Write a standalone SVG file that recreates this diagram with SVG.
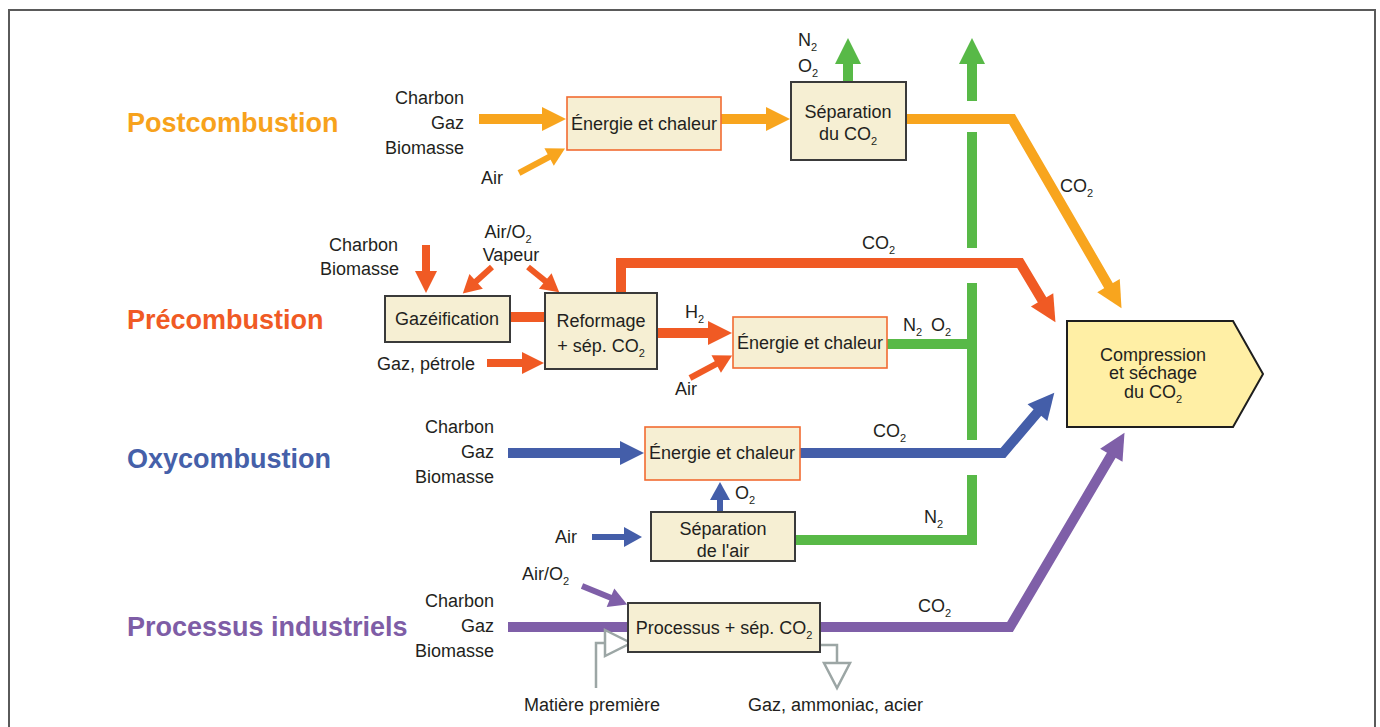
<svg xmlns="http://www.w3.org/2000/svg" width="1380" height="727" viewBox="0 0 1380 727">
<style>
text{font-family:"Liberation Sans",Arial,Helvetica,sans-serif;font-size:18px;fill:#231F20}
.t{font-size:27px;font-weight:bold}
.s{font-size:11px}
.e{text-anchor:end}
.m{text-anchor:middle}
.box{fill:#F6EFD3;stroke:#3A3A3A;stroke-width:2}
.ebox{fill:#F6EFD3;stroke:#F26B31;stroke-width:1.6}
.c{fill:none;stroke-linejoin:miter;stroke-linecap:butt}
.w10{stroke-width:10}.w8{stroke-width:8}.w6{stroke-width:6}
.or{stroke:#F8A51E}.rd{stroke:#F05A24}.bl{stroke:#445EA9}.pu{stroke:#7F5FA8}.gr{stroke:#58B947}
.gy{fill:none;stroke:#9CA6A5;stroke-width:2.5}
</style>
<defs>
<marker id="bOr" markerUnits="userSpaceOnUse" orient="auto" refX="1" refY="0" markerWidth="30" markerHeight="30" overflow="visible"><path d="M0,-13L26,0L0,13z" fill="#F8A51E"/></marker>
<marker id="bRd" markerUnits="userSpaceOnUse" orient="auto" refX="1" refY="0" markerWidth="30" markerHeight="30" overflow="visible"><path d="M0,-13L26,0L0,13z" fill="#F05A24"/></marker>
<marker id="bBl" markerUnits="userSpaceOnUse" orient="auto" refX="1" refY="0" markerWidth="30" markerHeight="30" overflow="visible"><path d="M0,-13L26,0L0,13z" fill="#445EA9"/></marker>
<marker id="bPu" markerUnits="userSpaceOnUse" orient="auto" refX="1" refY="0" markerWidth="30" markerHeight="30" overflow="visible"><path d="M0,-13L26,0L0,13z" fill="#7F5FA8"/></marker>
<marker id="hOr" markerUnits="userSpaceOnUse" orient="auto" refX="1" refY="0" markerWidth="30" markerHeight="30" overflow="visible"><path d="M0,-12L24,0L0,12z" fill="#F8A51E"/></marker>
<marker id="hRd" markerUnits="userSpaceOnUse" orient="auto" refX="1" refY="0" markerWidth="30" markerHeight="30" overflow="visible"><path d="M0,-12L24,0L0,12z" fill="#F05A24"/></marker>
<marker id="hBl" markerUnits="userSpaceOnUse" orient="auto" refX="1" refY="0" markerWidth="30" markerHeight="30" overflow="visible"><path d="M0,-12L24,0L0,12z" fill="#445EA9"/></marker>
<marker id="bGr" markerUnits="userSpaceOnUse" orient="auto" refX="1" refY="0" markerWidth="30" markerHeight="30" overflow="visible"><path d="M0,-13L26,0L0,13z" fill="#58B947"/></marker>
<marker id="mRd" markerUnits="userSpaceOnUse" orient="auto" refX="1" refY="0" markerWidth="30" markerHeight="30" overflow="visible"><path d="M0,-11L22,0L0,11z" fill="#F05A24"/></marker>
<marker id="sOr" markerUnits="userSpaceOnUse" orient="auto" refX="1" refY="0" markerWidth="30" markerHeight="30" overflow="visible"><path d="M0,-10L18,0L0,10z" fill="#F8A51E"/></marker>
<marker id="sRd" markerUnits="userSpaceOnUse" orient="auto" refX="1" refY="0" markerWidth="30" markerHeight="30" overflow="visible"><path d="M0,-10L18,0L0,10z" fill="#F05A24"/></marker>
<marker id="sBl" markerUnits="userSpaceOnUse" orient="auto" refX="1" refY="0" markerWidth="30" markerHeight="30" overflow="visible"><path d="M0,-10L18,0L0,10z" fill="#445EA9"/></marker>
<marker id="sPu" markerUnits="userSpaceOnUse" orient="auto" refX="1" refY="0" markerWidth="30" markerHeight="30" overflow="visible"><path d="M0,-10L18,0L0,10z" fill="#7F5FA8"/></marker>
</defs>
<rect width="1380" height="727" fill="#fff"/>
<path d="M9,727V10H1375V727" fill="none" stroke="#5A5A5A" stroke-width="2"/>

<g id="titles">
<text class="t" x="127" y="132" style="fill:#F7A21C">Postcombustion</text>
<text class="t" x="127" y="329" style="fill:#F05A24">Précombustion</text>
<text class="t" x="127" y="468" style="fill:#4560A9">Oxycombustion</text>
<text class="t" x="127" y="636" style="fill:#7E5DA6">Processus industriels</text>
</g>

<g id="connectors">
<!-- green -->
<path class="c w10 gr" d="M848,82V63" marker-end="url(#bGr)"/>
<path class="c w10 gr" d="M972,101V63" marker-end="url(#bGr)"/>
<path class="c w10 gr" d="M972,132V248"/>
<path class="c w10 gr" d="M972,283V440"/>
<path class="c w10 gr" d="M887,344H972"/>
<path class="c w10 gr" d="M795,540H972V475"/>
<!-- orange -->
<path class="c w10 or" d="M479,119H543" marker-end="url(#hOr)"/>
<path class="c w6 or" d="M519,173L550,156.5" marker-end="url(#sOr)"/>
<path class="c w10 or" d="M721,119H767" marker-end="url(#hOr)"/>
<path class="c w10 or" d="M906,119H1012L1109,286.5" marker-end="url(#bOr)"/>
<!-- red -->
<path class="c w8 rd" d="M426,245V272" marker-end="url(#mRd)"/>
<path class="c w6 rd" d="M492,267L475.4,282" marker-end="url(#sRd)"/>
<path class="c w6 rd" d="M528,267L546,281.6" marker-end="url(#sRd)"/>
<path class="c w10 rd" d="M510,317H545"/>
<path class="c w8 rd" d="M487,363H523" marker-end="url(#mRd)"/>
<path class="c w10 rd" d="M621,293V263H1020L1042.6,300.7" marker-end="url(#bRd)"/>
<path class="c w10 rd" d="M657,333H709" marker-end="url(#hRd)"/>
<path class="c w6 rd" d="M690,378L717.1,363.5" marker-end="url(#sRd)"/>
<!-- blue -->
<path class="c w10 bl" d="M508,453H621" marker-end="url(#hBl)"/>
<path class="c w10 bl" d="M800,453H1003L1038.1,411.8" marker-end="url(#bBl)"/>
<path class="c w6 bl" d="M720,512V499" marker-end="url(#sBl)"/>
<path class="c w6 bl" d="M592,537H625" marker-end="url(#sBl)"/>
<!-- purple -->
<path class="c w10 pu" d="M508,627H628"/>
<path class="c w6 pu" d="M582,586L611.4,598.1" marker-end="url(#sPu)"/>
<path class="c w10 pu" d="M820,627H1010L1111.8,454.4" marker-end="url(#bPu)"/>
<!-- gray -->
<path class="gy" d="M596,688V643H605"/>
<path class="gy" d="M605,630L631,643L605,656Z" style="fill:#fff"/>
<path class="gy" d="M820,645H837V663"/>
<path class="gy" d="M824,663H850L837,688Z" style="fill:#fff"/>
</g>

<g id="labels">
<text class="e" x="464" y="104">Charbon</text>
<text class="e" x="464" y="129">Gaz</text>
<text class="e" x="464" y="154">Biomasse</text>
<text x="481" y="184">Air</text>
<text x="798" y="46">N<tspan class="s" dy="5">2</tspan></text>
<text x="798" y="72">O<tspan class="s" dy="5">2</tspan></text>
<text x="1060" y="192">CO<tspan class="s" dy="5">2</tspan></text>

<text class="e" x="398" y="251">Charbon</text>
<text class="e" x="399" y="275">Biomasse</text>
<text class="m" x="508" y="238">Air/O<tspan class="s" dy="5">2</tspan></text>
<text class="m" x="511" y="261">Vapeur</text>
<text class="e" x="475" y="370">Gaz, pétrole</text>
<text x="862" y="249">CO<tspan class="s" dy="5">2</tspan></text>
<text x="685" y="318">H<tspan class="s" dy="5">2</tspan></text>
<text x="675" y="395">Air</text>
<text x="903" y="331">N<tspan class="s" dy="5">2</tspan></text>
<text x="931" y="331">O<tspan class="s" dy="5">2</tspan></text>

<text class="e" x="494" y="433">Charbon</text>
<text class="e" x="494" y="458">Gaz</text>
<text class="e" x="494" y="483">Biomasse</text>
<text x="873" y="437">CO<tspan class="s" dy="5">2</tspan></text>
<text x="735" y="499">O<tspan class="s" dy="5">2</tspan></text>
<text x="555" y="543">Air</text>
<text x="924" y="523">N<tspan class="s" dy="5">2</tspan></text>

<text class="e" x="494" y="607">Charbon</text>
<text class="e" x="494" y="632">Gaz</text>
<text class="e" x="494" y="657">Biomasse</text>
<text x="522" y="580">Air/O<tspan class="s" dy="5">2</tspan></text>
<text x="918" y="612">CO<tspan class="s" dy="5">2</tspan></text>
<text x="524" y="711">Matière première</text>
<text x="748" y="711">Gaz, ammoniac, acier</text>
</g>

<g id="post-energie"><rect class="ebox" x="567" y="97" width="154" height="53"/><text class="m" x="644" y="130">Énergie et chaleur</text></g>
<g id="post-separation"><rect class="box" x="791" y="82" width="115" height="78"/><text class="m" x="848" y="118">Séparation</text><text class="m" x="848" y="140">du CO<tspan class="s" dy="5">2</tspan></text></g>
<g id="pre-gazeification"><rect class="box" x="385" y="296" width="125" height="46"/><text class="m" x="447" y="325">Gazéification</text></g>
<g id="pre-reformage"><rect class="box" x="545" y="293" width="112" height="76"/><text class="m" x="601" y="327">Reformage</text><text class="m" x="601" y="352">+ sép. CO<tspan class="s" dy="5">2</tspan></text></g>
<g id="pre-energie"><rect class="ebox" x="733" y="317" width="154" height="51"/><text class="m" x="810" y="349">Énergie et chaleur</text></g>
<g id="oxy-energie"><rect class="ebox" x="645" y="427" width="155" height="53"/><text class="m" x="722" y="459">Énergie et chaleur</text></g>
<g id="oxy-separation"><rect class="box" x="651" y="512" width="144" height="49"/><text class="m" x="723" y="535">Séparation</text><text class="m" x="723" y="557">de l'air</text></g>
<g id="ind-processus"><rect class="box" x="628" y="603" width="192" height="49"/><text class="m" x="724" y="634">Processus + sép. CO<tspan class="s" dy="5">2</tspan></text></g>
<g id="compression"><path d="M1067,321H1233L1263,374L1233,427H1067Z" fill="#FFEFA5" stroke="#1E1E1E" stroke-width="2"/><text class="m" x="1153" y="361">Compression</text><text class="m" x="1153" y="379">et séchage</text><text class="m" x="1153" y="398">du CO<tspan class="s" dy="5">2</tspan></text></g>
</svg>
